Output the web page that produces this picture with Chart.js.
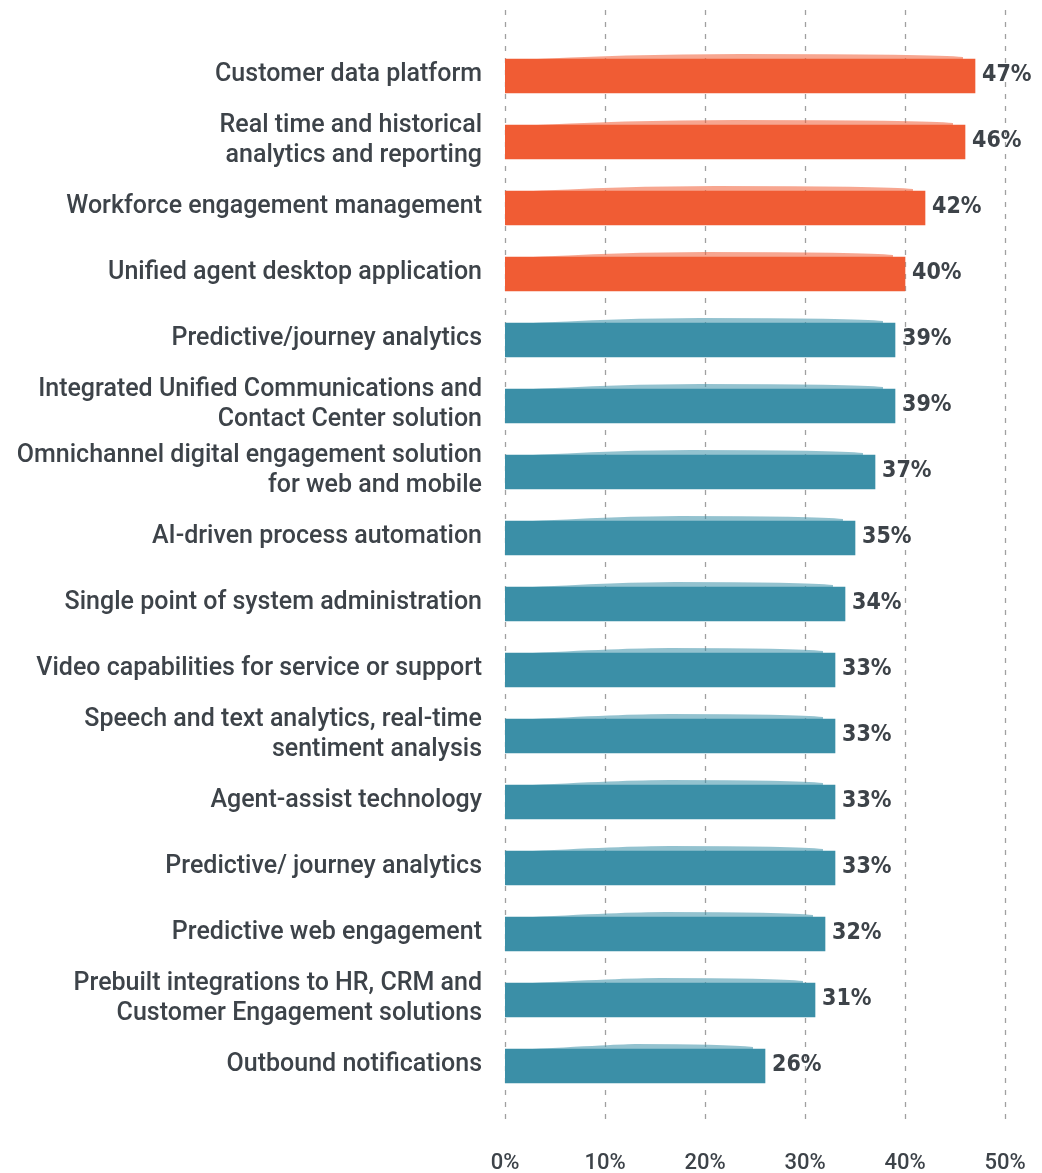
<!DOCTYPE html>
<html>
<head>
<meta charset="utf-8">
<script src="https://cdn.jsdelivr.net/npm/chart.js@4.4.1/dist/chart.umd.min.js"></script>
<style>
  html, body { margin: 0; padding: 0; background: #fff; }
  canvas { display: block; }
</style>
</head>
<body>
<canvas id="myChart" width="1042" height="1173"></canvas>
<script>
// chart data
var categories = [
    "Customer data platform",
    ["Real time and historical", "analytics and reporting"],
    "Workforce engagement management",
    "Unified agent desktop application",
    "Predictive/journey analytics",
    ["Integrated Unified Communications and", "Contact Center solution"],
    ["Omnichannel digital engagement solution", "for web and mobile"],
    "AI-driven process automation",
    "Single point of system administration",
    "Video capabilities for service or support",
    ["Speech and text analytics, real-time", "sentiment analysis"],
    "Agent-assist technology",
    "Predictive/ journey analytics",
    "Predictive web engagement",
    ["Prebuilt integrations to HR, CRM and", "Customer Engagement solutions"],
    "Outbound notifications"
];
var values = [47, 46, 42, 40, 39, 39, 37, 35, 34, 33, 33, 33, 33, 32, 31, 26];
var highlighted = [true, true, true, true, false, false, false, false, false, false, false, false, false, false, false, false];
var xTicks = [0, 10, 20, 30, 40, 50];

var orange = "#F05C34";
var teal = "#3B8FA7";
var barColors = highlighted.map(function (h) { return h ? orange : teal; });

// dashed vertical grid lines, running past the plot area like the original
var gridPlugin = {
    id: 'dashGrid',
    beforeDatasetsDraw: function (chart) {
        var ctx = chart.ctx;
        var x = chart.scales.x;
        ctx.save();
        ctx.strokeStyle = "#a0a0a0";
        ctx.lineWidth = 1.3;
        ctx.setLineDash([5, 7]);
        xTicks.forEach(function (t) {
            var px = Math.round(x.getPixelForValue(t)) + 0.5;
            ctx.beginPath();
            ctx.moveTo(px, 10);
            ctx.lineTo(px, 1122);
            ctx.stroke();
        });
        ctx.restore();
    }
};

// brushy top edge + value labels
var labelPlugin = {
    id: 'valueLabels',
    afterDatasetsDraw: function (chart) {
        var ctx = chart.ctx;
        var meta = chart.getDatasetMeta(0);
        ctx.save();
        meta.data.forEach(function (bar, i) {
            var top = bar.y - bar.height / 2;
            var left = bar.base;
            var right = bar.x;
            ctx.fillStyle = barColors[i];
            ctx.globalAlpha = 0.55;
            ctx.beginPath();
            ctx.moveTo(left + 10, top + 1);
            ctx.quadraticCurveTo(left + 120, top - 5, (left + right) / 2, top - 5);
            ctx.quadraticCurveTo(right - 40, top - 5, right - 12, top - 2);
            ctx.lineTo(right - 12, top + 1);
            ctx.closePath();
            ctx.fill();
            ctx.globalAlpha = 1;

            ctx.fillStyle = "#3d4349";
            ctx.font = "bold 23px 'DejaVu Sans Condensed', 'Liberation Sans Narrow', sans-serif";
            ctx.textAlign = "left";
            ctx.textBaseline = "middle";
            ctx.fillText(values[i] + "%", right + 7, bar.y - 1);
        });
        ctx.restore();
    }
};

new Chart("myChart", {
    type: "bar",
    data: {
        labels: categories,
        datasets: [{
            data: values,
            backgroundColor: barColors,
            borderWidth: 0,
            barThickness: 34
        }]
    },
    options: {
        indexAxis: 'y',
        responsive: false,
        animation: false,
        layout: {
            padding: { top: 43, bottom: 0, left: 0, right: 37 }
        },
        plugins: {
            legend: { display: false },
            tooltip: { enabled: false }
        },
        scales: {
            x: {
                min: 0,
                max: 50,
                border: { display: false },
                // hidden tick marks push the labels down without widening the side padding
                grid: { display: false, drawTicks: true, tickLength: 48 },
                afterBuildTicks: function (scale) {
                    scale.ticks = xTicks.map(function (v) { return { value: v }; });
                },
                ticks: {
                    padding: 3,
                    color: "#3d4349",
                    font: { family: "Roboto", size: 22, weight: 500 },
                    callback: function (v) { return v + "%"; }
                },
                afterFit: function (scale) { scale.height = 74; }
            },
            y: {
                border: { display: false },
                grid: { display: false, drawTicks: false },
                ticks: {
                    padding: 23,
                    labelOffset: -1,
                    color: "#3d4349",
                    font: { family: "Roboto", size: 25, weight: 500, lineHeight: 1.2 }
                },
                afterFit: function (scale) { scale.width = 505; }
            }
        }
    },
    plugins: [gridPlugin, labelPlugin]
});
</script>
</body>
</html>
